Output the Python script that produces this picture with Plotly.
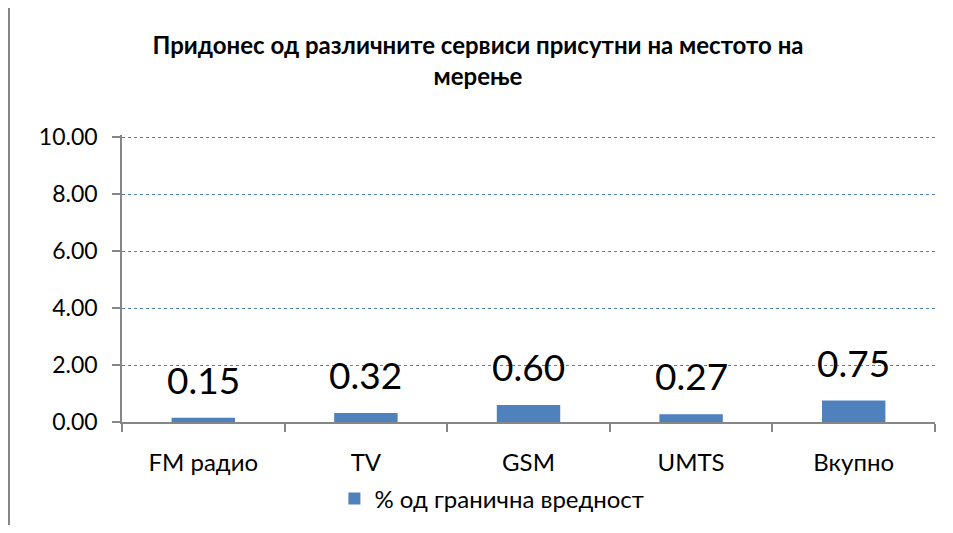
import plotly.graph_objects as go

categories = ["FM радио", "TV", "GSM", "UMTS", "Вкупно"]
values = [0.15, 0.32, 0.60, 0.27, 0.75]
series_name = "% од гранична вредност"
title = "Придонес од различните сервиси присутни на местото на<br>мерење"
y_ticks = [0, 2, 4, 6, 8, 10]

font = "Lato, 'Open Sans', sans-serif"
blue = "#4F81BD"
axis_gray = "#868686"

fig = go.Figure()
fig.add_trace(go.Bar(
    x=categories,
    y=values,
    name=series_name,
    marker=dict(color=blue, line=dict(width=0)),
    width=0.39,
    showlegend=True,
))

# data labels above the bars (Excel-style "outside end")
for c, v in zip(categories, values):
    fig.add_annotation(
        x=c, y=v, text="%.2f" % v,
        showarrow=False, yanchor="bottom", yshift=14,
        font=dict(family=font, size=37, color="#000000"),
    )

# outer chart frame: only left and top edges are visible in the source
fig.add_shape(type="line", xref="paper", yref="paper",
              x0=-0.139, x1=-0.139, y0=-0.7, y1=1.449,
              line=dict(color=axis_gray, width=2), layer="above")
fig.add_shape(type="line", xref="paper", yref="paper",
              x0=-0.139, x1=1.2, y0=1.449, y1=1.449,
              line=dict(color=axis_gray, width=2), layer="above")

# page body has an 8px margin, so the figure is 16px smaller than the window
fig.update_layout(
    width=937, height=517,
    margin=dict(l=114, r=10, t=127, b=103, autoexpand=False),
    paper_bgcolor="white", plot_bgcolor="white",
    font=dict(family=font, color="#000000"),
    title=dict(text=title, x=0.5016, xanchor="center",
               y=0.911, yanchor="middle",
               font=dict(family=font, size=24, color="#000000", weight="bold")),
    legend=dict(orientation="h", x=0.455, xanchor="center",
                y=-0.268, yanchor="middle",
                font=dict(family=font, size=24, color="#000000"),
                itemwidth=30),
    xaxis=dict(
        type="category", automargin=False,
        showline=True, linecolor=axis_gray, linewidth=1.5,
        ticks="outside", ticklen=8, tickcolor=axis_gray, tickwidth=1.5,
        tickson="boundaries", ticklabelstandoff=18,
        tickfont=dict(family=font, size=24, color="#000000"),
        showgrid=False,
    ),
    yaxis=dict(
        range=[0, 10.07], tickvals=y_ticks, tickformat=".2f", automargin=False,
        showline=True, linecolor=axis_gray, linewidth=1.5,
        ticks="outside", ticklen=8, tickcolor=axis_gray, tickwidth=1.5,
        ticklabelstandoff=10,
        tickfont=dict(family=font, size=23, color="#000000"),
        showgrid=True, gridcolor=blue, griddash="dot", gridwidth=1,
        zeroline=False,
    ),
)

fig.write_html("out.html")
